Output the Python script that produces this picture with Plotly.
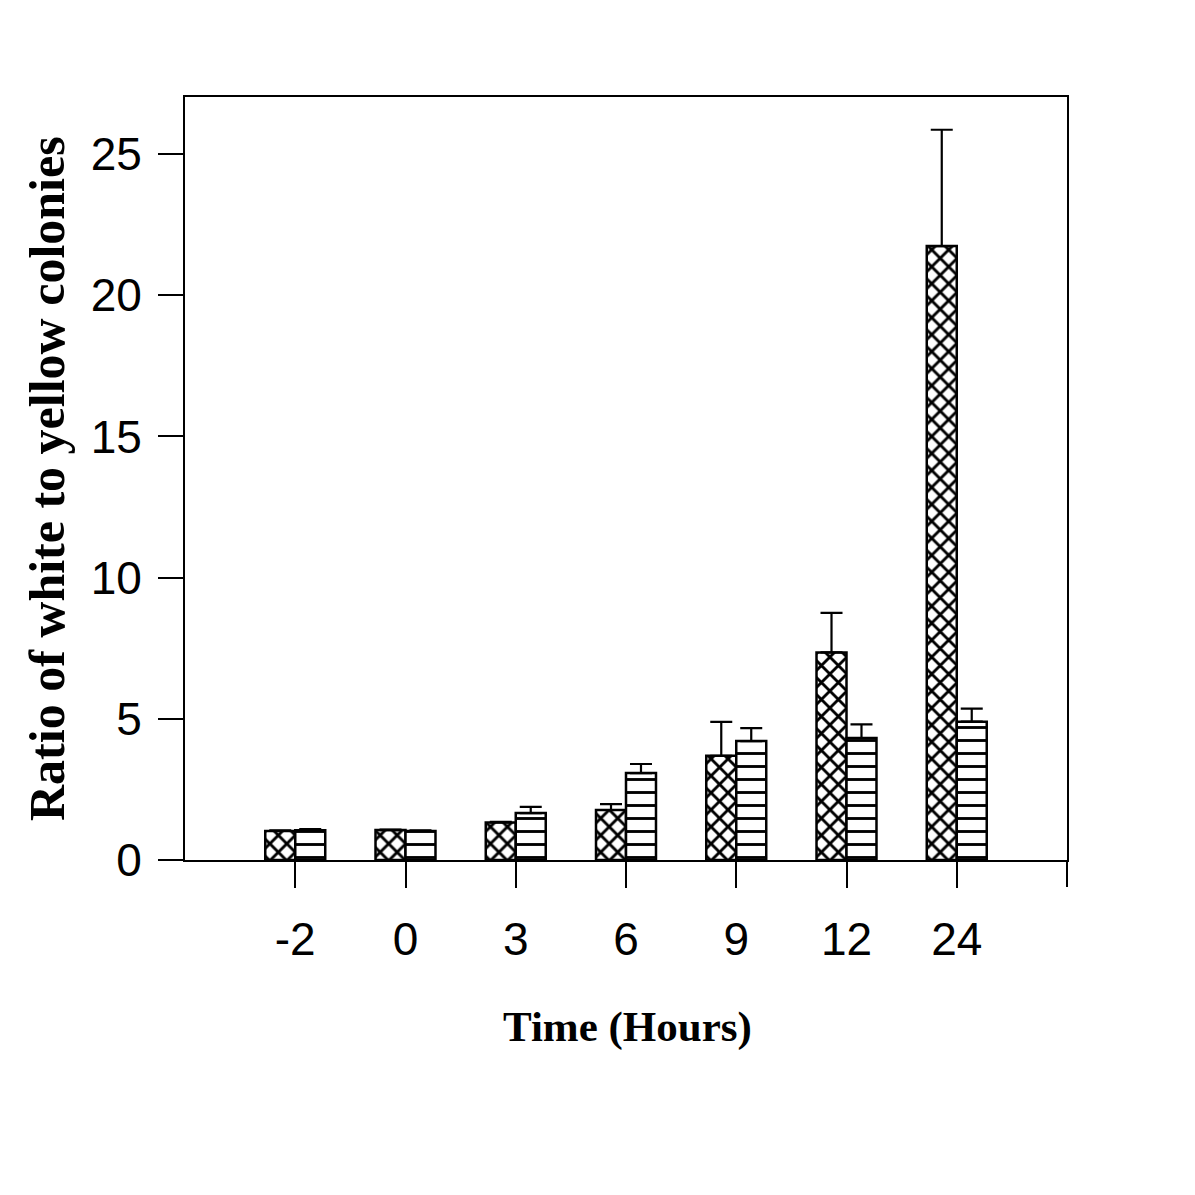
import plotly.graph_objects as go

time_labels = ["-2", "0", "3", "6", "9", "12", "24"]
series_a = [1.03, 1.06, 1.33, 1.77, 3.69, 7.35, 21.74]
series_a_err = [1.05, 1.08, 1.35, 1.98, 4.89, 8.75, 25.86]
series_b = [1.05, 1.03, 1.66, 3.08, 4.21, 4.32, 4.90]
series_b_err = [1.09, 1.05, 1.88, 3.40, 4.67, 4.80, 5.36]

up_a = [e - v for e, v in zip(series_a_err, series_a)]
up_b = [e - v for e, v in zip(series_b_err, series_b)]

fig = go.Figure()
fig.add_trace(go.Bar(
    x=time_labels, y=series_a, name="A",
    marker=dict(color="white", line=dict(color="black", width=2.5),
                pattern=dict(shape="x", fgcolor="black", bgcolor="white", fgopacity=1,
                             size=12, solidity=0.42)),
    error_y=dict(type="data", symmetric=False, array=up_a, arrayminus=[0]*7,
                 color="black", thickness=2.2, width=11),
))
fig.add_trace(go.Bar(
    x=time_labels, y=series_b, name="B",
    marker=dict(color="white", line=dict(color="black", width=2.5),
                pattern=dict(shape="-", fgcolor="black", bgcolor="white", fgopacity=1,
                             size=13, solidity=0.22)),
    error_y=dict(type="data", symmetric=False, array=up_b, arrayminus=[0]*7,
                 color="black", thickness=2.2, width=11),
))

L, T, W, H = 177, 89, 882, 763
fig.update_layout(
    width=1195, height=1195,
    margin=dict(l=L, r=1195 - L - W, t=T, b=1195 - T - H),
    paper_bgcolor="white", plot_bgcolor="white",
    barmode="group", bargap=0.456, bargroupgap=0,
    showlegend=False,
    font=dict(family="Liberation Sans, Arial, sans-serif", color="black"),
)
fig.update_xaxes(
    type="category", range=[-1, 7],
    showline=True, linecolor="black", linewidth=2, mirror=True,
    ticks="outside", ticklen=26, tickwidth=2, tickcolor="black",
    tickfont=dict(size=46, family="Liberation Sans, Arial, sans-serif"),
    ticklabelstandoff=12,
    showgrid=False, zeroline=False,
)
fig.update_yaxes(
    range=[0, 27.02],
    tickvals=[0, 5, 10, 15, 20, 25],
    showline=True, linecolor="black", linewidth=2, mirror=True,
    ticks="outside", ticklen=25, tickwidth=2, tickcolor="black",
    tickfont=dict(size=46, family="Liberation Sans, Arial, sans-serif"),
    ticklabelstandoff=7,
    showgrid=False, zeroline=False,
)
# right border extension below the x axis
fig.add_shape(type="line", xref="paper", yref="paper",
              x0=1, x1=1, y0=-27/H, y1=0,
              line=dict(color="black", width=2))

fig.add_annotation(text="<b>Time (Hours)</b>", xref="paper", yref="paper",
                   x=(627-185)/W, y=-(1027-860)/H, showarrow=False,
                   xanchor="center", yanchor="middle",
                   font=dict(family="Liberation Serif, Times New Roman, serif", size=43, color="black"))
fig.add_annotation(text="<b>Ratio of white to yellow colonies</b>", xref="paper", yref="paper",
                   x=-(185-47)/W, y=(860-479)/H, showarrow=False, textangle=-90,
                   xanchor="center", yanchor="middle",
                   font=dict(family="Liberation Serif, Times New Roman, serif", size=50, color="black"))

fig.write_html("out.html")
